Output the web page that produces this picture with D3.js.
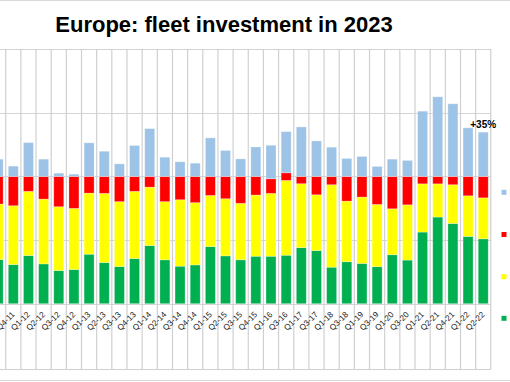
<!DOCTYPE html>
<html>
<head>
<meta charset="utf-8">
<script src="https://cdn.jsdelivr.net/npm/d3@7/dist/d3.min.js"></script>
<style>
  html, body { margin: 0; padding: 0; background: #fff; }
  svg { display: block; font-family: "Liberation Sans", Arial, sans-serif; }
</style>
</head>
<body>
<svg id="chart" width="510" height="382"></svg>
<script>
const categories = ["Q3-11","Q4-11","Q1-12","Q2-12","Q3-12","Q4-12","Q1-13","Q2-13","Q3-13","Q4-13",
  "Q1-14","Q2-14","Q3-14","Q4-14","Q1-15","Q2-15","Q3-15","Q4-15","Q1-16","Q3-16",
  "Q1-17","Q3-17","Q1-18","Q3-18","Q1-19","Q3-19","Q1-20","Q3-20","Q1-21","Q2-21",
  "Q4-21","Q1-22","Q2-22"];
const greenVals  = [34.7,30.8,37.9,31.3,26.1,26.9,38.9,32.4,29.2,35.5,45.7,34.5,29.5,30.5,44.9,37.6,34.5,37.3,37.3,38.1,44.1,41.8,28.7,33.0,31.7,29.1,38.5,34.3,56.3,68.1,63.1,52.9,51.0];
const yellowVals = [43.6,46.2,50.4,50.9,50.1,48.0,48.0,54.3,51.0,52.8,45.9,45.7,52.2,48.9,40.2,44.9,44.4,48.1,49.4,58.8,50.2,43.8,64.8,47.6,52.1,48.9,36.1,43.4,37.9,26.1,30.4,31.9,32.2];
const redVals    = [21.7,23.0,11.7,17.8,23.8,25.1,13.1,13.3,19.8,11.7,8.4,19.8,18.3,20.6,14.9,17.5,21.1,14.6,11.5,6.0,5.7,14.4,6.5,19.4,16.2,22.0,25.4,22.3,5.8,5.8,6.5,15.2,16.8];
const blueVals   = [13.6,8.1,26.6,13.6,2.6,1.8,26.4,19.8,9.9,24.3,37.6,15.1,11.5,10.4,30.3,20.4,13.8,23.2,26.3,32.3,38.9,27.9,23.0,14.1,15.7,7.9,13.6,12.6,51.3,62.6,57.1,38.2,34.8];
const seriesNames = ["Increase","Stable","Decrease","Balance"];
const seriesColors = ["#00B050","#FFFF00","#FF0000","#9DC3E6"];
const yTicks = [0,50,100,150,200];
const title = "Europe: fleet investment in 2023";
const annotation = "+35%";

const svg = d3.select("#chart");
const W = 510, H = 382;
const plotTop = 49.2, plotBottom = 303.7, gridBottom = 369, plotRight = 491;

const x = d3.scaleBand().domain(categories).range([-9.44, 490.8]).paddingInner(0.34).paddingOuter(0.17);
const y = d3.scaleLinear().domain([0, 200]).range([plotBottom, plotTop]);

// outer chart border lines
svg.append("line").attr("x1",0).attr("x2",W).attr("y1",0.5).attr("y2",0.5).attr("stroke","#d9d9d9");
svg.append("line").attr("x1",0).attr("x2",W).attr("y1",380.5).attr("y2",380.5).attr("stroke","#d9d9d9");

// horizontal gridlines
svg.append("g").selectAll("line").data(yTicks).join("line")
  .attr("x1", 0).attr("x2", plotRight)
  .attr("y1", d => Math.round(y(d)) + 0.5).attr("y2", d => Math.round(y(d)) + 0.5)
  .attr("stroke", "#d4d4d4").attr("stroke-width", 1.2);

// vertical gridlines at band boundaries
const step = x.step();
const bounds = d3.range(categories.length + 1).map(i => x.range()[0] + i * step);
svg.append("g").selectAll("line").data(bounds).join("line")
  .attr("x1", d => d).attr("x2", d => d)
  .attr("y1", plotTop).attr("y2", gridBottom)
  .attr("stroke", "#d0d0d0").attr("stroke-width", 1.2);

svg.append("line").attr("x1",0).attr("x2",plotRight).attr("y1",gridBottom+0.5).attr("y2",gridBottom+0.5)
  .attr("stroke","#d0d0d0").attr("stroke-width",1.2);

// stacked data
const rows = categories.map((c, i) => ({cat: c, s0: greenVals[i], s1: yellowVals[i], s2: redVals[i], s3: blueVals[i]}));
const stack = d3.stack().keys(["s0","s1","s2","s3"]);
const layers = stack(rows);

svg.append("g").selectAll("g").data(layers).join("g")
  .attr("fill", (d, i) => seriesColors[i])
  .selectAll("rect").data(d => d).join("rect")
  .attr("x", d => x(d.data.cat))
  .attr("width", x.bandwidth())
  .attr("y", d => y(d[1]))
  .attr("height", d => y(d[0]) - y(d[1]))
  .attr("stroke", "rgba(255,255,255,0.35)").attr("stroke-width", 0.8);

// x labels
svg.append("g").selectAll("text").data(categories).join("text")
  .attr("transform", d => `translate(${x(d) + x.bandwidth()/2 + 2},315) rotate(-45)`)
  .attr("text-anchor", "end")
  .attr("font-size", 8.2)
  .attr("fill", "#1a1a1a")
  .text(d => d);

// annotation on last bar
const last = rows[rows.length - 1];
const lastTop = last.s0 + last.s1 + last.s2 + last.s3;
svg.append("text")
  .attr("x", x(last.cat) + x.bandwidth()/2)
  .attr("y", y(lastTop) - 4)
  .attr("text-anchor", "middle")
  .attr("font-size", 10)
  .attr("font-weight", "bold")
  .attr("fill", "#000")
  .text(annotation);

// title
svg.append("text").attr("x", 224).attr("y", 32)
  .attr("text-anchor", "middle").attr("font-size", 22).attr("font-weight", "bold")
  .attr("fill", "#000").text(title);

// legend (cut at right edge)
const legendY = [192.3, 234.5, 276.7, 318.3];
const legendOrder = [3, 2, 1, 0];
const lg = svg.append("g").selectAll("g").data(legendOrder).join("g")
  .attr("transform", (d, i) => `translate(501.5,${legendY[i] - 2.5})`);
lg.append("rect").attr("width", 5).attr("height", 5).attr("fill", d => seriesColors[d]);
lg.append("text").attr("x", 8).attr("y", 5.5).attr("font-size", 9).attr("fill", "#333")
  .text(d => seriesNames[d]);
</script>
</body>
</html>
